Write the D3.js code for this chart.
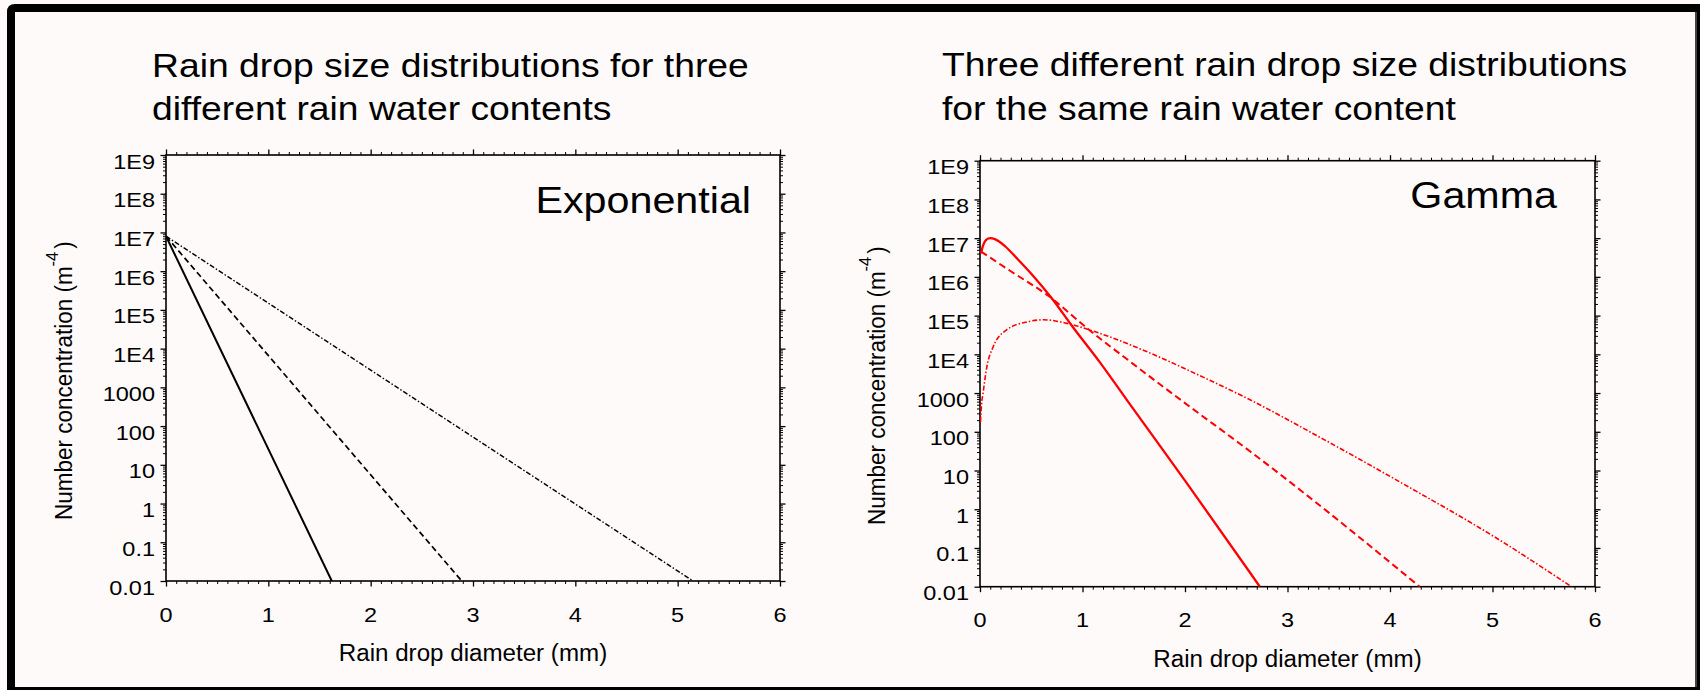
<!DOCTYPE html>
<html><head><meta charset="utf-8">
<script src="https://cdn.jsdelivr.net/npm/d3@7"></script>
<style>
html,body{margin:0;padding:0;background:#fefaf9;}
svg{display:block;font-family:"Liberation Sans",Arial,Helvetica,sans-serif;}
</style></head>
<body><svg id="c" width="1700" height="690"></svg>
<script>
// ---------- data ----------
const xTickValues = [0, 1, 2, 3, 4, 5, 6];
const yTickValues = [1e9, 1e8, 1e7, 1e6, 1e5, 1e4, 1000, 100, 10, 1, 0.1, 0.01];
const yTickLabels = ["1E9", "1E8", "1E7", "1E6", "1E5", "1E4", "1000", "100", "10", "1", "0.1", "0.01"];

const leftTitle = ["Rain drop size distributions for three", "different rain water contents"];
const rightTitle = ["Three different rain drop size distributions", "for the same rain water content"];
const xAxisTitle = "Rain drop diameter (mm)";
const yAxisTitle = "Number concentration (m";
const yAxisSup = "-4";

// Exponential panel: [diameter mm, N m^-4]
const expSolid   = [[0, 8e6], [1.62, 0.01]];
const expDashed  = [[0, 8e6], [2.89, 0.01]];
const expDashDot = [[0, 8e6], [5.15, 0.01]];

// Gamma panel
const gamSolidD = [0.01, 0.03, 0.06, 0.1, 0.15, 0.25, 0.36, 0.5, 0.7, 0.9, 1.17, 1.43, 2.0, 2.63, 2.73];
const gamSolidN = [4e6, 6.5e6, 9e6, 1e7, 9.3e6, 6e6, 3e6, 1.2e6, 2.8e5, 5.3e4, 6.2e3, 680, 5.5, 0.024, 0.01];
const gamDashedD = [0.01, 0.3, 0.67, 1.05, 1.5, 2.0, 2.63, 3.12, 3.7, 4.29];
const gamDashedN = [4.5e6, 1.4e6, 3.2e5, 4.6e4, 5.5e3, 550, 32, 3.2, 0.19, 0.01];
const gamDashDotD = [0.005, 0.015, 0.03, 0.065, 0.13, 0.26, 0.46, 0.62, 0.85, 1.14, 1.6, 2.1, 2.63, 3.3, 4.1, 5.07, 5.77];
const gamDashDotN = [180, 500, 1000, 4500, 1.6e4, 4.3e4, 6.9e4, 7.8e4, 6.3e4, 3.7e4, 1.26e4, 3200, 680, 76, 5, 0.16, 0.01];

// ---------- drawing ----------
const svg = d3.select("#c");
const BG = "#fefaf9";

// frame
svg.append("path")
  .attr("d", "M7,12 Q7,4 15,4 L1700,4 L1700,690 L7,690 Z")
  .attr("fill", "#000");
svg.append("rect").attr("x", 15).attr("y", 12).attr("width", 1680).attr("height", 675).attr("fill", BG);
svg.append("rect").attr("x", 1695).attr("y", 12).attr("width", 2).attr("height", 675).attr("fill", "#444");

const SX = 1.12;
function txt(g, x, y, str, size, anchor, sx) {
  return g.append("text")
    .attr("transform", `translate(${x},${y}) scale(${sx},1)`)
    .attr("text-anchor", anchor)
    .style("font-size", size + "px")
    .attr("fill", "#000")
    .text(str);
}

function panel(opt) {
  const g = svg.append("g");
  const x = d3.scaleLinear().domain([0, 6]).range([opt.left, opt.right]);
  const y = d3.scaleLog().domain([0.01, 1e9]).range([opt.bottom, opt.top]);

  // titles
  txt(g, opt.titleX, opt.titleY1, opt.title[0], 33, "start", 1.13);
  txt(g, opt.titleX, opt.titleY2, opt.title[1], 33, "start", 1.13);

  // minor values
  const xMinor = d3.range(0, 60).map(i => i / 10).filter(v => Math.abs(v - Math.round(v)) > 1e-6);
  const yMinor = [];
  for (let e = -2; e < 9; e++) for (let k = 2; k <= 9; k++) yMinor.push(k * Math.pow(10, e));

  const axes = [
    {a: d3.axisBottom(x), t: `translate(0,${opt.bottom})`, vals: xTickValues, minor: xMinor},
    {a: d3.axisTop(x), t: `translate(0,${opt.top})`, vals: xTickValues, minor: xMinor},
    {a: d3.axisLeft(y), t: `translate(${opt.left},0)`, vals: yTickValues, minor: yMinor},
    {a: d3.axisRight(y), t: `translate(${opt.right},0)`, vals: yTickValues, minor: yMinor}
  ];
  axes.forEach(ax => {
    const ga = g.append("g").attr("transform", ax.t);
    ga.call(ax.a.tickValues(ax.minor).tickSize(3).tickSizeOuter(0).tickFormat(""));
    ga.select(".domain").remove();
    ga.selectAll("line").attr("stroke", "#000").attr("stroke-width", 1);
    const gm = g.append("g").attr("transform", ax.t);
    gm.call(ax.a.tickValues(ax.vals).tickSize(5.5).tickSizeOuter(0).tickFormat(""));
    gm.select(".domain").remove();
    gm.selectAll("line").attr("stroke", "#000").attr("stroke-width", 1.3);
  });

  // frame box
  g.append("rect").attr("x", opt.left).attr("y", opt.top)
    .attr("width", opt.right - opt.left).attr("height", opt.bottom - opt.top)
    .attr("fill", "none").attr("stroke", "#000").attr("stroke-width", 1.6);

  // tick labels
  xTickValues.forEach(v => txt(g, x(v), opt.bottom + 40.5, String(v), 21, "middle", SX));
  yTickValues.forEach((v, i) => txt(g, opt.left - 11, y(v) + 13.5, yTickLabels[i], 21, "end", SX));

  // axis titles
  txt(g, (opt.left + opt.right) / 2, opt.bottom + 80, xAxisTitle, 23, "middle", 1.05);
  const yt = g.append("text")
    .attr("transform", `translate(${opt.yTitleX},${opt.yTitleY}) scale(1.05,1) rotate(-90)`)
    .attr("text-anchor", "start")
    .style("font-size", "22.5px").attr("fill", "#000");
  yt.append("tspan").text(yAxisTitle);
  yt.append("tspan").attr("dy", -13).style("font-size", "16.5px").text(yAxisSup);
  yt.append("tspan").attr("dy", 13).attr("dx", 3).text(")");

  // panel label
  txt(g, opt.labelX, opt.labelY, opt.label, 37.5, "end", 1.1);

  // clip
  const cid = "clip" + opt.id;
  svg.append("clipPath").attr("id", cid).append("rect")
    .attr("x", opt.left).attr("y", opt.top - 2)
    .attr("width", opt.right - opt.left).attr("height", opt.bottom - opt.top + 2);

  const line = d3.line().x(d => x(d[0])).y(d => y(d[1])).curve(d3.curveMonotoneX);
  opt.series.forEach(s => {
    g.append("path").attr("clip-path", `url(#${cid})`)
      .attr("d", line(s.data)).attr("fill", "none")
      .attr("stroke", opt.color).attr("stroke-width", s.w)
      .attr("stroke-dasharray", s.dash);
  });
}

const zip = (a, b) => a.map((v, i) => [v, b[i]]);

panel({
  id: "L", left: 166, right: 780, top: 155, bottom: 581,
  title: leftTitle, titleX: 152, titleY1: 77, titleY2: 120,
  yTitleX: 72, yTitleY: 520,
  label: "Exponential", labelX: 751, labelY: 213,
  color: "#000",
  series: [
    {data: expSolid, w: 2, dash: null},
    {data: expDashed, w: 1.7, dash: "6,3.5"},
    {data: expDashDot, w: 1.4, dash: "5,2,1.5,2"}
  ]
});

panel({
  id: "R", left: 980, right: 1595, top: 160.7, bottom: 586.7,
  title: rightTitle, titleX: 942, titleY1: 76, titleY2: 120,
  yTitleX: 885, yTitleY: 525,
  label: "Gamma", labelX: 1557, labelY: 208,
  color: "#ff0000",
  series: [
    {data: zip(gamSolidD, gamSolidN), w: 2.3, dash: null},
    {data: zip(gamDashedD, gamDashedN), w: 2, dash: "7,4"},
    {data: zip(gamDashDotD, gamDashDotN), w: 1.6, dash: "5,2,1.5,2"}
  ]
});
</script>
</body></html>
